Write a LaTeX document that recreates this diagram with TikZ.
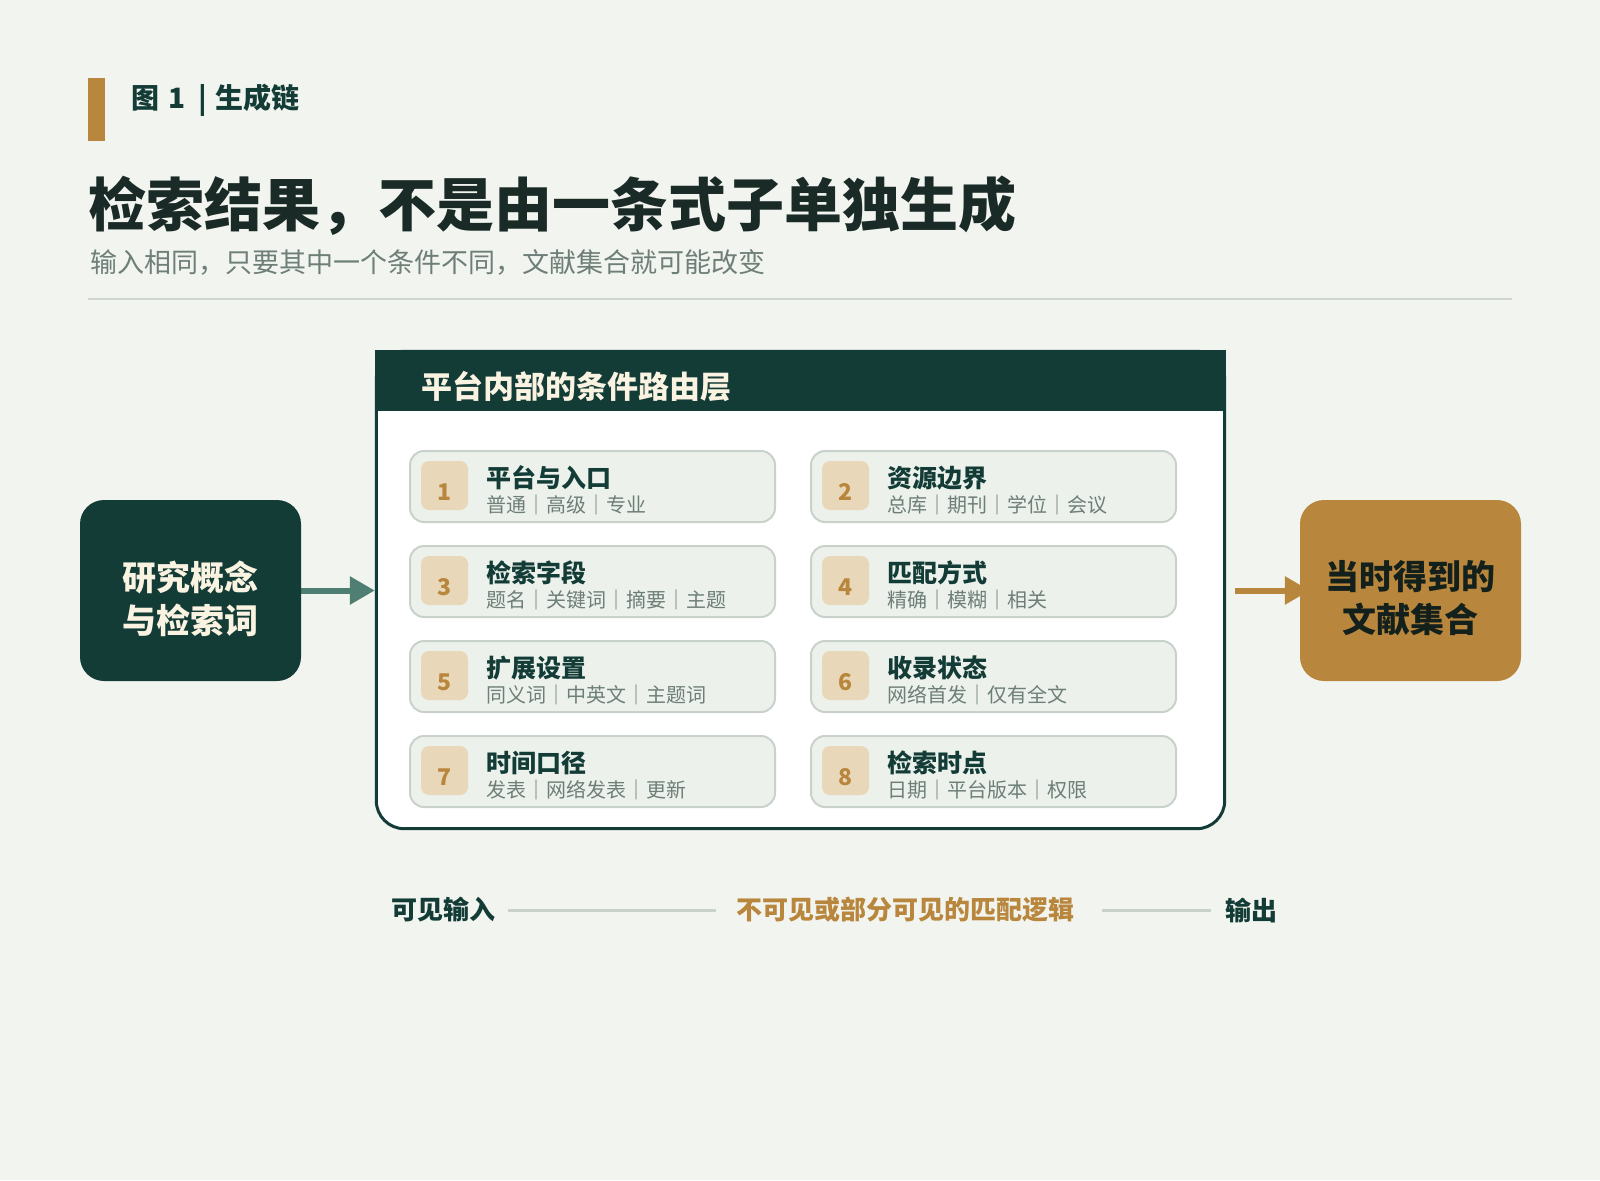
\documentclass[tikz,border=0pt]{standalone}
\usepackage{fontspec}
\setmainfont{Noto Sans CJK SC}
\usetikzlibrary{calc,arrows.meta}
\definecolor{bgc}{HTML}{F2F4EF}
\definecolor{dk}{HTML}{143C37}
\definecolor{gold}{HTML}{B8863C}
\definecolor{titlec}{HTML}{1A2A26}
\definecolor{subg}{HTML}{6E7E78}
\definecolor{rulec}{HTML}{CDD6CF}
\definecolor{cardfill}{HTML}{ECF1EC}
\definecolor{cardline}{HTML}{C9D2CA}
\definecolor{badgec}{HTML}{E8D7B8}
\definecolor{cream}{HTML}{FBF3E1}
\definecolor{arrowg}{HTML}{4F7F72}
\definecolor{darktxt}{HTML}{13201B}
\pgfdeclarelayer{bglayer}
\pgfdeclarelayer{arrowlayer}
\pgfsetlayers{bglayer,arrowlayer,main}
\tikzset{
  card/.style={draw=cardline, line width=2pt, fill=cardfill, rounded corners=14pt, minimum width=365pt, minimum height=71pt, inner sep=0pt},
  badge/.style={fill=badgec, rounded corners=8pt, minimum width=47pt, minimum height=49pt, inner sep=0pt},
  numtxt/.style={text=gold, font=\fontsize{23}{26}\selectfont\bfseries, inner sep=0pt},
  cardtitle/.style={anchor=west, text=dk, font=\fontsize{25}{28}\selectfont\bfseries, inner sep=0pt},
  cardsub/.style={anchor=west, text=subg, font=\fontsize{20}{24}\selectfont, inner sep=0pt},
  endnode/.style={rounded corners=24pt, minimum width=221pt, minimum height=181pt, inner sep=0pt},
  bigtxt/.style={align=center, font=\fontsize{34}{43}\selectfont\bfseries, inner sep=0pt},
  flowarrow/.style={line width=6pt, -{Triangle[length=25pt,width=27pt]}},
  legend/.style={anchor=west, font=\fontsize{26}{30}\selectfont\bfseries, inner sep=0pt},
  legendline/.style={draw=cardline, line width=3pt},
}
\newcommand\mycard[5]{%
  \node[card] (#1) at #2 {};
  \node[badge] (#1b) at ($(#1.north west)+(35.5,35.5)$) {};
  \node[numtxt] (#1n) at ($(#1.north west)+(35.5,42)$) {#3};
  \node[cardtitle] (#1t) at ($(#1.north west)+(77,28)$) {#4};
  \node[cardsub] (#1s) at ($(#1.north west)+(77,55)$) {#5};
}
\begin{document}
\begin{tikzpicture}[x=1pt,y=-1pt]
\useasboundingbox (0,0) rectangle (1600,1180);
\begin{pgfonlayer}{bglayer}
  \fill[bgc] (0,0) rectangle (1600,1180);
\end{pgfonlayer}

% header
\fill[gold] (88,78) rectangle (105,141);
\node[anchor=west, inner sep=0pt, text=dk, font=\fontsize{28}{32}\selectfont\bfseries] (fig) at (131,100)
  {图\hspace{9pt}1\hspace{13pt}|\hspace{9pt}生成链};
\node[anchor=west, inner sep=0pt, text=titlec, font=\fontsize{58}{66}\selectfont\bfseries] (title) at (88,206)
  {检索结果，不是由一条式子单独生成};
\node[anchor=west, inner sep=0pt, text=subg, font=\fontsize{27}{32}\selectfont] (subtitle) at (90,262)
  {输入相同，只要其中一个条件不同，文献集合就可能改变};
\draw[rulec, line width=2pt] (88,299) -- (1512,299);

% container
\node[minimum width=851pt, minimum height=480pt, inner sep=0pt] (layer) at (800.5,590) {};
\draw[dk, line width=3pt, fill=white, rounded corners=28pt]
  ($(layer.north west)+(1.5,1.5)$) rectangle ($(layer.south east)+(-1.5,-1.5)$);
\fill[dk] (layer.north west) rectangle ($(layer.north east)+(0,61)$);
\node[anchor=west, inner sep=0pt, text=cream, font=\fontsize{31}{36}\selectfont\bfseries] (layertitle)
  at ($(layer.north west)+(46,37)$) {平台内部的条件路由层};

% cards
\mycard{c1}{(592.5,486.5)}{1}{平台与入口}{普通｜高级｜专业}
\mycard{c2}{(993.5,486.5)}{2}{资源边界}{总库｜期刊｜学位｜会议}
\mycard{c3}{(592.5,581.5)}{3}{检索字段}{题名｜关键词｜摘要｜主题}
\mycard{c4}{(993.5,581.5)}{4}{匹配方式}{精确｜模糊｜相关}
\mycard{c5}{(592.5,676.5)}{5}{扩展设置}{同义词｜中英文｜主题词}
\mycard{c6}{(993.5,676.5)}{6}{收录状态}{网络首发｜仅有全文}
\mycard{c7}{(592.5,771.5)}{7}{时间口径}{发表｜网络发表｜更新}
\mycard{c8}{(993.5,771.5)}{8}{检索时点}{日期｜平台版本｜权限}

% end nodes
\node[endnode, fill=dk] (lin) at (190.5,590.5) {};
\node[bigtxt, text=cream] (lintxt) at ([yshift=-8pt]lin.center) {研究概念\\与检索词};
\node[endnode, fill=gold] (rout) at (1410.5,590.5) {};
\node[bigtxt, text=darktxt] (routtxt) at ([yshift=-8pt]rout.center) {当时得到的\\文献集合};

\begin{pgfonlayer}{arrowlayer}
  \draw[flowarrow, arrowg] (lin.east) -- (lin.east -| layer.west);
  \draw[flowarrow, gold] ([xshift=9pt]layer.east |- rout.west) -- ([xshift=10pt]rout.west);
\end{pgfonlayer}

% legend
\node[legend, text=dk] (vin) at (391,910) {可见输入};
\node[legend, text=gold] (mid) at (736,910) {不可见或部分可见的匹配逻辑};
\node[legend, text=dk] (vout) at (1225,910) {输出};
\draw[legendline] ([xshift=13pt]vin.east) -- ([xshift=-20pt]mid.west);
\draw[legendline] ([xshift=28pt]mid.east) -- ([xshift=-14pt]vout.west);
\end{tikzpicture}
\end{document}
